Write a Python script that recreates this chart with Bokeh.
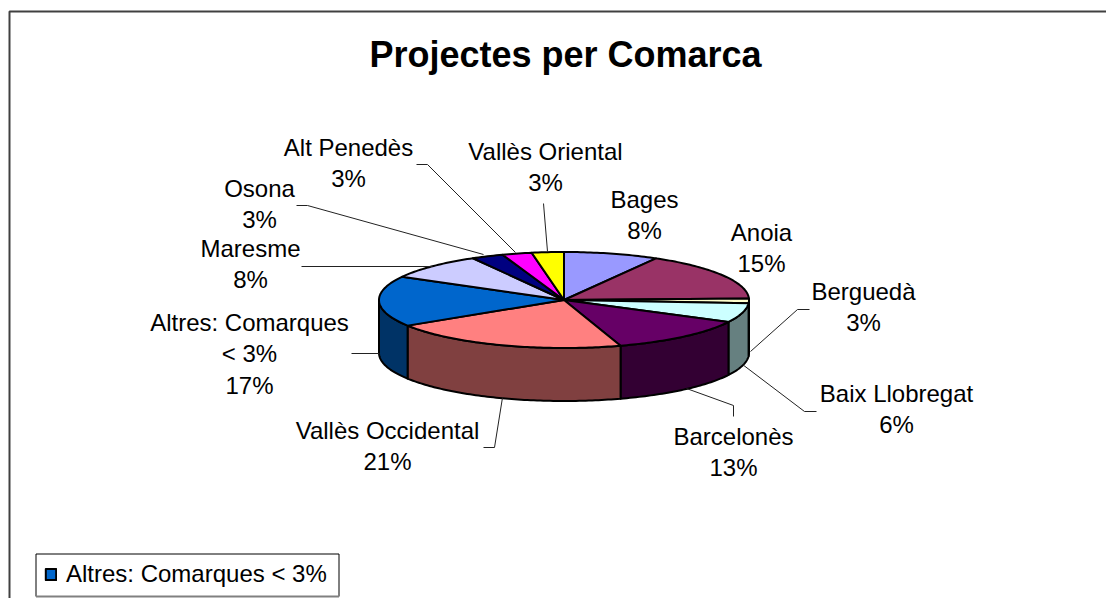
import math
from bokeh.embed import file_html
from bokeh.resources import INLINE
from bokeh.plotting import figure
from bokeh.models import ColumnDataSource, Range1d, Legend, LegendItem
from bokeh.core.properties import value

# ---- data: clockwise from the top of the pie
TITLE = "Projectes per Comarca"
comarques = ["Bages", "Anoia", "Berguedà", "Baix Llobregat", "Barcelonès",
             "Vallès Occidental", "Altres: Comarques\n< 3%", "Maresme",
             "Osona", "Alt Penedès", "Vallès Oriental"]
percent_labels = ["8%", "15%", "3%", "6%", "13%", "21%", "17%", "8%", "3%", "3%", "3%"]
# slice sizes as drawn in the picture (the printed labels are rounded differently)
slice_share = [8.3, 16.2, 1.6, 6.5, 12.5, 21.0, 17.0, 8.8, 2.8, 2.6, 2.8]
top_colors = ["#9999FF", "#993366", "#FFFFCC", "#CCFFFF", "#660066", "#FF8080",
              "#0066CC", "#CCCCFF", "#000080", "#FF00FF", "#FFFF00"]
wall_colors = ["#4D4D80", "#4D1A33", "#808066", "#668080", "#330033", "#804040",
               "#003366", "#666680", "#000040", "#800080", "#808000"]
legend_label = "Altres: Comarques < 3%"

# ---- layout (page pixels; the ranges below map them 1:1)
CX, CY, RX, RY, DEPTH = 563.5, 299.5, 185.0, 48.0, 53.0
FONT = "Liberation Sans"
LABEL_X = [644, 761, 863, 896, 733, 387, 249, 250, 259, 348, 545]
LABEL_Y = [199, 232, 291, 393, 436, 430, 322, 248, 188, 147, 151]
LINE_STEP = 31.3
LEADERS_X = [[543, 547], [809, 797, 750], [816, 804, 742], [733, 733, 686], [483, 494, 502],
             [351, 379], [301, 432], [296, 307, 483], [416, 427, 515]]
LEADERS_Y = [[203, 251], [309, 309, 351], [411, 411, 364], [416, 405, 388], [447, 447, 397],
             [353, 353], [266, 266], [205, 205, 254], [164, 164, 252]]
LEGEND_BOX = (35.5, 338.5, 553.5, 596)


def rim(t_deg, lift=0.0):
    t = math.radians(t_deg)
    return CX + RX * math.sin(t), CY - RY * math.cos(t) + lift


def arc(a, b, lift=0.0, steps_per_deg=1):
    n = max(2, int(abs(b - a) * steps_per_deg) + 1)
    return [rim(a + (b - a) * i / (n - 1), lift) for i in range(n)]


total = sum(slice_share)
starts, ends, acc = [], [], 0.0
for s in slice_share:
    starts.append(acc / total * 360)
    acc += s
    ends.append(acc / total * 360)

p = figure(width=1106, height=598, output_backend="svg", toolbar_location=None,
           x_range=Range1d(0, 1106), y_range=Range1d(598, 0),
           min_border=0, outline_line_color=None, background_fill_color="white",
           border_fill_color="white")
p.xaxis.visible = False
p.yaxis.visible = False
p.grid.visible = False

# chart frame, running off the page at right and bottom
p.line([9, 9, 1106], [598, 11, 11], line_color="#404040", line_width=2)

# side walls
wx, wy, wc = [], [], []
for a, b, c in zip(starts, ends, wall_colors):
    lo, hi = max(a, 90), min(b, 270)
    if lo >= hi:
        continue
    pts = arc(lo, hi) + arc(hi, lo, DEPTH)
    wx.append([q[0] for q in pts])
    wy.append([q[1] for q in pts])
    wc.append(c)
p.patches("x", "y", source=ColumnDataSource(dict(x=wx, y=wy, c=wc)),
          fill_color="c", line_color="black", line_width=2, line_join="round")

# top slices
tx, ty = [], []
for a, b in zip(starts, ends):
    pts = [(CX, CY)] + arc(a, b)
    tx.append([q[0] for q in pts])
    ty.append([q[1] for q in pts])
top = p.patches("x", "y", source=ColumnDataSource(dict(x=tx, y=ty, c=top_colors)),
                fill_color="c", line_color="black", line_width=2, line_join="round")

# leader lines
p.multi_line(LEADERS_X, LEADERS_Y, line_color="#222222", line_width=1)

# data labels
lx, ly, lt = [], [], []
for name, pct, x, y in zip(comarques, percent_labels, LABEL_X, LABEL_Y):
    for i, line in enumerate(name.split("\n") + [pct]):
        lx.append(x)
        ly.append(y + i * LINE_STEP)
        lt.append(line)
p.text("x", "y", text="t", source=ColumnDataSource(dict(x=lx, y=ly, t=lt)),
       text_font=value(FONT), text_font_size="24px", text_color="black",
       text_align="center", text_baseline="middle")

# title
p.text([565], [54], text=[TITLE], text_font=value(FONT), text_font_size="36px",
       text_font_style="bold", text_color="black", text_align="center", text_baseline="middle")

# legend box with its grey lower edge, and the legend itself
bl, br, bt, bb = LEGEND_BOX
p.quad(left=[bl], right=[br], top=[bt], bottom=[bb], fill_color="white",
       line_color="black", line_width=1)
p.line([bl, br], [bb, bb], line_color="#808080", line_width=2)

legend = Legend(items=[LegendItem(label=legend_label, renderers=[top], index=6)],
                location=(44, 10), orientation="vertical",
                label_text_font=FONT, label_text_font_size="24px", label_text_color="black",
                border_line_color=None, background_fill_alpha=0.0,
                glyph_width=13, glyph_height=14,
                padding=0, margin=0, label_standoff=9, label_height=26)
p.add_layout(legend, "center")

open("out.html", "w").write(file_html(p, INLINE))
